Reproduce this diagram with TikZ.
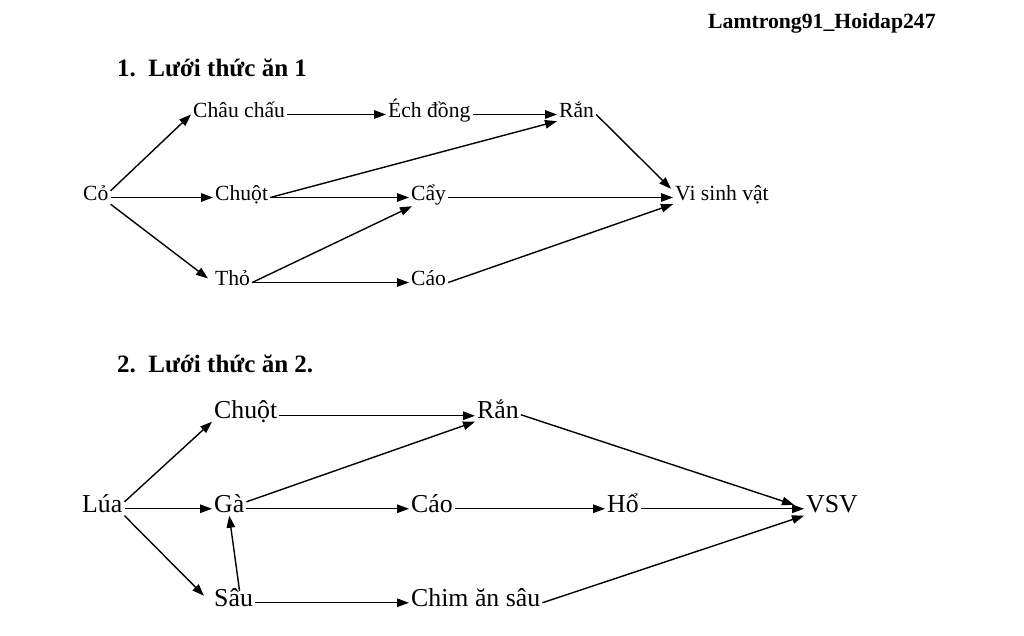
\documentclass[tikz,border=0pt]{standalone}
\usepackage{fontspec}
\setmainfont{Liberation Serif}
\usetikzlibrary{arrows.meta}
\begin{document}
\begin{tikzpicture}[x=1pt,y=-1pt,
  lbl/.style={anchor=base west, inner sep=2pt, text height=0.7em, text depth=0.2em, font=\fontsize{21.6}{24}\selectfont},
  lbltwo/.style={lbl, text height=0.8em, text depth=0.15em, font=\fontsize{25.8}{28}\selectfont},
  ttl/.style={anchor=base west, inner sep=0pt, font=\fontsize{25}{28}\selectfont\bfseries},
  arr/.style={-{Triangle[length=12pt,width=8.5pt]}, line width=1.4pt}]
\useasboundingbox (0,0) rectangle (1024,635);
\node[ttl, font=\fontsize{21.7}{24}\selectfont\bfseries] (wm) at (708,28) {Lamtrong91\_Hoidap247};
\node[ttl] (t1) at (117,76) {1.\hspace{0.5em}Lưới thức ăn 1};
\node[ttl] (t2) at (117,372) {2.\hspace{0.5em}Lưới thức ăn 2.};
% diagram 1
\node[lbl] (co) at (81,200) {Cỏ};
\node[lbl] (chau) at (191,117) {Châu chấu};
\node[lbl] (ech) at (386,117) {Éch đồng};
\node[lbl] (ranA) at (557,117) {Rắn};
\node[lbl] (chuotA) at (213,200) {Chuột};
\node[lbl] (cay) at (409,200) {Cẩy};
\node[lbl] (vsvA) at (673,200) {Vi sinh vật};
\node[lbl] (tho) at (213,285) {Thỏ};
\node[lbl] (caoA) at (409,285) {Cáo};
\draw[arr] (co.north east) -- (chau.west);
\draw[arr] (co.east) -- (chuotA.west);
\draw[arr] (co.south east) -- ([shift={(-5,-4)}]tho.west);
\draw[arr] (chau.east) -- (ech.west);
\draw[arr] (ech.east) -- (ranA.west);
\draw[arr] (chuotA.east) -- (ranA.south west);
\draw[arr] (chuotA.east) -- (cay.west);
\draw[arr] (cay.east) -- (vsvA.west);
\draw[arr] (ranA.east) -- ([shift={(-2,-2)}]vsvA.north west);
\draw[arr] (tho.east) -- ([shift={(3,2)}]cay.south west);
\draw[arr] (tho.east) -- (caoA.west);
\draw[arr] (caoA.east) -- (vsvA.south west);
% diagram 2
\node[lbltwo] (lua) at (80,512) {Lúa};
\node[lbltwo] (chuotB) at (212,418) {Chuột};
\node[lbltwo] (ranB) at (475,418) {Rắn};
\node[lbltwo] (ga) at (212,512) {Gà};
\node[lbltwo] (caoB) at (409,512) {Cáo};
\node[lbltwo] (ho) at (605,512) {Hổ};
\node[lbltwo] (vsvB) at (804,512) {VSV};
\node[lbltwo] (sau) at (212,606) {Sâu};
\node[lbltwo] (chim) at (409,606) {Chim ăn sâu};
\draw[arr] (lua.north east) -- (chuotB.south west);
\draw[arr] (lua.east) -- (ga.west);
\draw[arr] (lua.south east) -- ([shift={(-8,0)}]sau.north west);
\draw[arr] ([yshift=-1pt]chuotB.east) -- ([yshift=-1pt]ranB.west);
\draw[arr] (ga.north east) -- (ranB.south west);
\draw[arr] (ga.east) -- (caoB.west);
\draw[arr] ([shift={(6,-5)}]sau.north) -- (ga.south);
\draw[arr] (caoB.east) -- (ho.west);
\draw[arr] (ho.east) -- (vsvB.west);
\draw[arr] (ranB.east) -- ([shift={(-10,3)}]vsvB.north west);
\draw[arr] (chim.east) -- (vsvB.south west);
\draw[arr] (sau.east) -- (chim.west);
\end{tikzpicture}
\end{document}
